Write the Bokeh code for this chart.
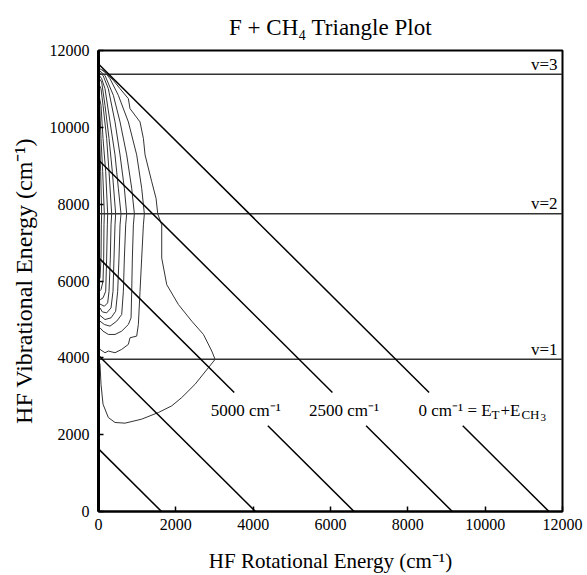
from bokeh.plotting import figure
from bokeh.models import Label, FixedTicker, Range1d
from bokeh.embed import file_html
from bokeh.resources import INLINE

FONT = "Liberation Serif"

# ---------------- data ----------------
title_text = "F + CH\u2084 Triangle Plot"
x_title = "HF Rotational Energy (cm\u207b\u00b9)"
y_title = "HF Vibrational Energy (cm\u207b\u00b9)"
tick_values = [0, 2000, 4000, 6000, 8000, 10000, 12000]

# HF vibrational levels (cm-1)
vib_levels = [3960, 7750, 11380]
vib_names = ["v=1", "v=2", "v=3"]

# lines of constant E_rot + E_vib (cm-1)
energy_lines = [11650, 9150, 6610, 4060, 1630]
energy_names = ["0 cm\u207b\u00b9", "2500 cm\u207b\u00b9", "5000 cm\u207b\u00b9", "", ""]

# contour lines (E_rot, E_vib), outermost first
c10_x = [100, 211, 384, 557, 772, 815, 1074, 1161, 1204, 1376, 1488, 1532, 1635, 1635, 1765, 2067, 2412, 2714, 2929, 3016, 2843, 2498, 2153, 1894, 1549, 1117, 686, 427, 254, 117, 65, 39, 0]
c10_y = [11500, 11395, 11222, 11006, 10747, 10487, 10141, 9709, 9283, 8587, 8154, 7748, 7461, 6597, 5905, 5387, 4954, 4609, 4177, 3960, 3745, 3312, 2966, 2750, 2577, 2404, 2300, 2317, 2447, 2793, 3312, 3831, 3960]
c9_x = [0, 168, 298, 513, 772, 988, 1117, 1186, 1161, 1117, 1074, 1031, 988, 815, 772, 600, 427, 254, 168, 39, 0]
c9_y = [11550, 11438, 11265, 10834, 10141, 9283, 8413, 7748, 7461, 6597, 5732, 4868, 4566, 4522, 4350, 4220, 4133, 4177, 4133, 4220, 4300]
c8_x = [0, 168, 384, 557, 729, 859, 928, 902, 876, 859, 842, 772, 600, 427, 254, 117, 39, 0]
c8_y = [11500, 11352, 10834, 10141, 9283, 8413, 7748, 7461, 6597, 5732, 5041, 4868, 4695, 4609, 4609, 4695, 4782, 4800]
c7_x = [0, 117, 254, 427, 557, 669, 729, 703, 669, 643, 600, 470, 298, 151, 39, 0]
c7_y = [11450, 11352, 11006, 10141, 9283, 8413, 7748, 7461, 6597, 5732, 5127, 4954, 4825, 4868, 4954, 4990]
c6_x = [0, 82, 168, 298, 427, 513, 582, 557, 530, 496, 444, 324, 168, 65, 0]
c6_y = [11380, 11265, 11006, 10141, 9283, 8413, 7748, 7461, 6597, 5732, 5213, 5041, 4997, 5084, 5130]
c5_x = [0, 82, 168, 272, 358, 444, 427, 401, 375, 324, 211, 99, 39, 0]
c5_y = [11300, 11179, 10574, 9709, 8846, 7748, 7461, 6597, 5732, 5300, 5170, 5196, 5300, 5330]
c4_x = [0, 65, 117, 211, 272, 341, 324, 306, 272, 237, 151, 65, 0]
c4_y = [11150, 11006, 10574, 9709, 8846, 7748, 7461, 6597, 5732, 5430, 5343, 5387, 5420]
c3_x = [0, 65, 117, 186, 237, 229, 211, 186, 117, 47, 0]
c3_y = [10900, 10574, 9709, 8846, 7748, 7461, 6597, 5732, 5560, 5516, 5530]
c2_x = [0, 30, 65, 108, 151, 142, 134, 117, 65, 22, 0]
c2_y = [10700, 10574, 9709, 8846, 7748, 7461, 6597, 5992, 5776, 5732, 5740]
c1_x = [0, 30, 56, 82, 73, 65, 39, 0]
c1_y = [10300, 9709, 8846, 7748, 7461, 6597, 6078, 6000]

# ---------------- figure ----------------
p = figure(width=587, height=575, output_backend="svg", toolbar_location=None,
           x_range=Range1d(0, 12000), y_range=Range1d(0, 12000),
           min_border_left=98, min_border_right=25, min_border_top=50, min_border_bottom=62,
           background_fill_color="white", border_fill_color="white")
p.grid.visible = False
p.outline_line_color = "black"
p.outline_line_width = 2

p.title.text = title_text
p.title.align = "center"
p.title.text_font = FONT
p.title.text_font_size = "23px"
p.title.text_font_style = "normal"
p.title.text_color = "black"
p.title.standoff = 22

for ax, lab in ((p.xaxis[0], x_title), (p.yaxis[0], y_title)):
    ax.ticker = FixedTicker(ticks=tick_values)
    ax.axis_label = lab
    ax.axis_label_text_font = FONT
    ax.axis_label_text_font_style = "normal"
    ax.axis_label_text_color = "black"
    ax.major_label_text_font = FONT
    ax.major_label_text_font_size = "16px"
    ax.major_label_text_color = "black"
    ax.axis_line_color = "black"
    ax.axis_line_width = 2
    ax.major_tick_in = 5
    ax.major_tick_out = 0
    ax.major_tick_line_width = 1.5
    ax.minor_tick_line_color = None
p.xaxis[0].axis_label_text_font_size = "21px"
p.yaxis[0].axis_label_text_font_size = "24px"
p.xaxis[0].major_label_standoff = 7
p.xaxis[0].axis_label_standoff = 16
p.yaxis[0].major_label_standoff = 9
p.yaxis[0].axis_label_standoff = 10
p.yaxis[0].axis_line_width = 3

# contours
cx = [c10_x, c9_x, c8_x, c7_x, c6_x, c5_x, c4_x, c3_x, c2_x, c1_x]
cy = [c10_y, c9_y, c8_y, c7_y, c6_y, c5_y, c4_y, c3_y, c2_y, c1_y]
p.multi_line(cx, cy, line_color="#333333", line_width=1)

# vibrational level lines
p.segment(x0=[0] * len(vib_levels), y0=vib_levels, x1=[12000] * len(vib_levels), y1=vib_levels,
          line_color="#333333", line_width=1.5)
for lvl, name in zip(vib_levels, vib_names):
    p.add_layout(Label(x=12000, y=lvl, text=name, text_align="right", text_baseline="alphabetic",
                       x_offset=-5, y_offset=10, text_font=FONT, text_font_size="17px",
                       text_color="black"))

# constant-energy diagonals (gap where labels sit)
gap_lo, gap_hi = 2230, 3100
x0s, y0s, x1s, y1s = [], [], [], []
for e, name in zip(energy_lines, energy_names):
    if name:
        x0s += [0, e - gap_lo]
        y0s += [e, gap_lo]
        x1s += [e - gap_hi, e]
        y1s += [gap_hi, 0]
    else:
        x0s.append(0); y0s.append(e); x1s.append(e); y1s.append(0)
p.segment(x0=x0s, y0=y0s, x1=x1s, y1=y1s, line_color="black", line_width=1.5)

label_y = 2640
for e, name in zip(energy_lines, energy_names):
    if name:
        p.add_layout(Label(x=e - 2800, y=label_y, text=name, text_align="center",
                           text_baseline="alphabetic", text_font=FONT, text_font_size="17px",
                           text_color="black"))

# "= E_T + E_CH3"
base_x = energy_lines[0] - 2110
parts = [("= E", 0, 0, "17px"), ("T", 24, -4, "13px"), ("+E", 33, 0, "17px"),
         ("CH", 54, -4, "13px"), ("3", 73, -7, "11px")]
for txt, dx, dy, fs in parts:
    p.add_layout(Label(x=base_x, y=label_y, text=txt, x_offset=dx, y_offset=dy,
                       text_align="left", text_baseline="alphabetic", text_font=FONT,
                       text_font_size=fs, text_color="black"))

open("out.html", "w").write(file_html(p, INLINE))
